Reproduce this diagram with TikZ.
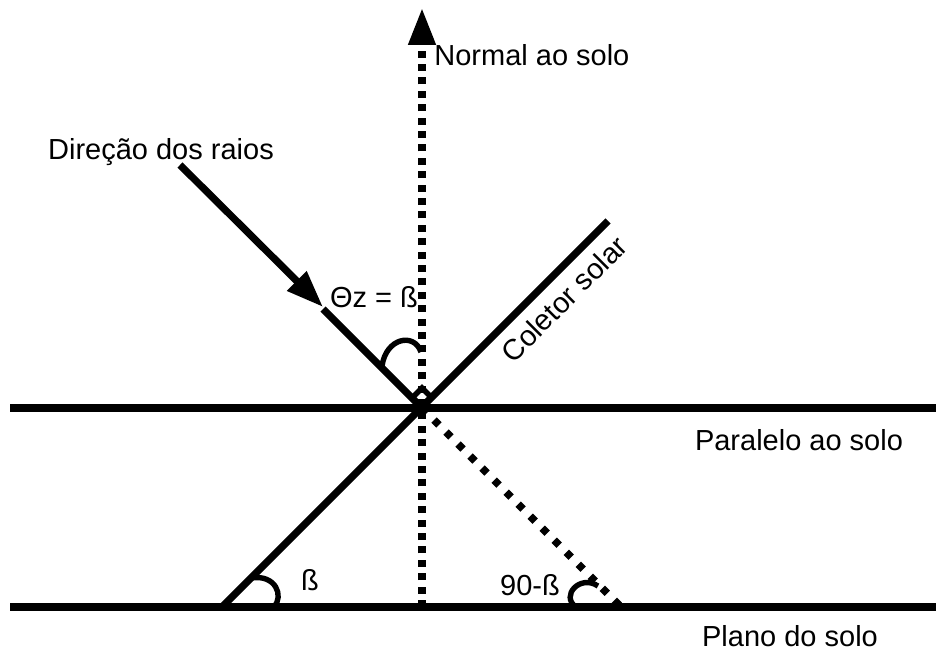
\documentclass[tikz,border=0pt]{standalone}
\usepackage{fontspec}
\setmainfont{Liberation Sans}
\usetikzlibrary{arrows.meta}

\begin{document}
\begin{tikzpicture}[x=0.5pt, y=-0.5pt,
    thickline/.style={line width=3.6pt},
    dotline/.style={line width=3.8pt, dash pattern=on 3.5pt off 3.2pt},
    diagdot/.style={line width=3.8pt, dash pattern=on 3.5pt off 5pt},
    anglemark/.style={line width=2.7pt},
    lbl/.style={font=\fontsize{14.5}{17}\selectfont, inner sep=0pt}]
    \useasboundingbox (0,0) rectangle (936,651);
    % main points
    \coordinate (O) at (422,408);
    \coordinate (top) at (422,8);
    \coordinate (foot) at (422,607);
    \coordinate (colA) at (222,607);
    \coordinate (colB) at (608,221);
    \coordinate (rayA) at (180,165);
    \coordinate (rayTip) at (323,307);
    \coordinate (rayB) at (323,309);
    \coordinate (diagEnd) at (621,607);
    % ground lines
    \draw[thickline] (10,408) coordinate (parA) -- (936,408) coordinate (parB);
    \draw[thickline] (10,607) coordinate (planA) -- (936,607) coordinate (planB);
    % normal
    \draw[dotline, -{Triangle[length=18.5pt, width=13pt]}] (foot) -- (top);
    % collector
    \draw[thickline] (colA) -- (colB);
    % rays
    \draw[thickline, -{Triangle[length=18.5pt, width=13pt]}] (rayA) -- (rayTip);
    \draw[thickline] (rayB) -- (O);
    \draw[diagdot] (O) -- (diagEnd);
    % angles
    \draw[anglemark] (382,366) .. controls (386,338) and (414,332) .. (421,352);
    \draw[anglemark] (412,398) -- (422,388) -- (432,398);
    \draw[anglemark] (251,578) .. controls (276,574) and (284,596) .. (274,607);
    \draw[anglemark] (598,586) .. controls (580,574) and (560,596) .. (576,607);
    % labels
    \node[lbl, anchor=west] (normal) at (434,55) {Normal ao solo};
    \node[lbl] (raios) at (161,152) {Direção dos raios};
    \node[lbl] (theta) at (374,297) {Θz = ß};
    \node[lbl, rotate=45] (coletor) at (564,299) {Coletor solar};
    \node[lbl] (paralelo) at (799,440) {Paralelo ao solo};
    \node[lbl] (beta) at (310,580) {ß};
    \node[lbl] (noventa) at (530,585) {90-ß};
    \node[lbl] (plano) at (790,636) {Plano do solo};
\end{tikzpicture}
\end{document}
